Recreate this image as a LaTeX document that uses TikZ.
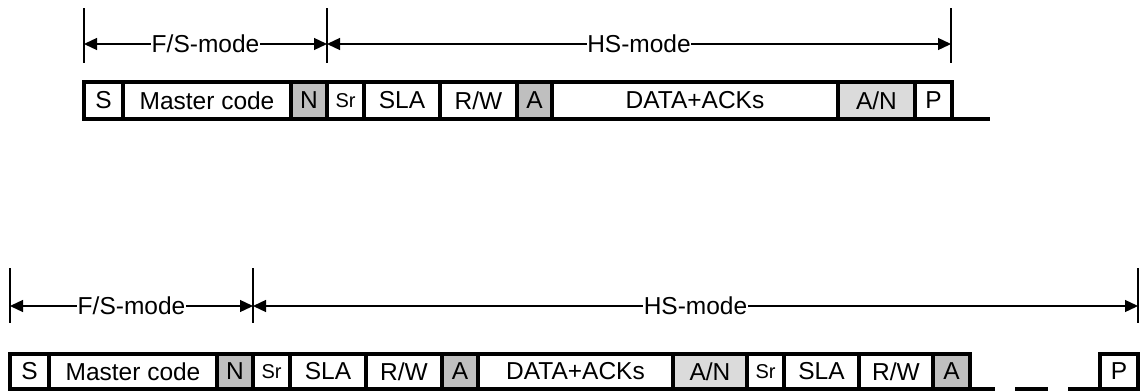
\documentclass[tikz,border=0pt]{standalone}
\usepackage{fontspec}
\setmainfont{Liberation Sans}
\usetikzlibrary{arrows.meta}
\definecolor{ackgray}{gray}{0.75}
\definecolor{dotgray}{gray}{0.86}
\tikzset{
  fieldbox/.style={draw=black, line width=4.5pt, inner sep=0pt, outer sep=0pt,
    font=\fontsize{24.5}{27}\selectfont, anchor=center},
  smallfield/.style={font=\fontsize{20}{23}\selectfont},
  tick/.style={line width=1.4pt},
  dimline/.style={line width=1.3pt, {Triangle[length=13pt,width=12pt]}-{Triangle[length=13pt,width=12pt]}},
  dimlabel/.style={fill=white, inner sep=0.5pt, font=\fontsize{24.5}{27}\selectfont},
  busline/.style={line width=4.5pt},
}
\newcommand\fld[6]{\node[fieldbox,#5,minimum width={(#3-#2)*1pt}] (#1) at ({(#2+#3)/2},#4) {#6};}
\begin{document}
\begin{tikzpicture}[x=1pt,y=-1pt]
\useasboundingbox (0,0) rectangle (1143,391);
% ---------- top diagram ----------
\coordinate (t1a) at (84,8);  \coordinate (t1b) at (84,63);
\coordinate (t2a) at (327,8); \coordinate (t2b) at (327,63);
\coordinate (t3a) at (951,8); \coordinate (t3b) at (951,63);
\draw[tick] (t1a) -- (t1b);
\draw[tick] (t2a) -- (t2b);
\draw[tick] (t3a) -- (t3b);
\coordinate (d1) at (84,44); \coordinate (d2) at (327,44); \coordinate (d3) at (951,44);
\draw[dimline] (d1) -- node[dimlabel] {F/S-mode} (d2);
\draw[dimline] (d2) -- node[dimlabel] {HS-mode} (d3);
\begin{scope}[every node/.append style={minimum height=37pt}]
\fld{aS}{84}{123}{100.5}{}{S}
\fld{aM}{123}{291}{100.5}{}{Master code}
\fld{aN}{291}{327}{100.5}{fill=ackgray}{N}
\fld{aSr}{327}{364}{100.5}{smallfield}{Sr}
\fld{aSLA}{364}{440}{100.5}{}{SLA}
\fld{aRW}{440}{517}{100.5}{}{R/W}
\fld{aA}{517}{552}{100.5}{fill=ackgray}{A}
\fld{aD}{552}{838}{100.5}{}{DATA+ACKs}
\fld{aAN}{838}{915}{100.5}{fill=dotgray}{A/N}
\fld{aP}{915}{952}{100.5}{}{P}
\end{scope}
\coordinate (aend) at (990,119);
\draw[busline] (aP.south east) -- (aend);
% ---------- bottom diagram ----------
\coordinate (u1a) at (10,268);   \coordinate (u1b) at (10,323);
\coordinate (u2a) at (253,268);  \coordinate (u2b) at (253,323);
\coordinate (u3a) at (1138,268); \coordinate (u3b) at (1138,323);
\draw[tick] (u1a) -- (u1b);
\draw[tick] (u2a) -- (u2b);
\draw[tick] (u3a) -- (u3b);
\coordinate (e1) at (10,306); \coordinate (e2) at (253,306); \coordinate (e3) at (1138,306);
\draw[dimline] (e1) -- node[dimlabel] {F/S-mode} (e2);
\draw[dimline] (e2) -- node[dimlabel] {HS-mode} (e3);
\begin{scope}[every node/.append style={minimum height=35pt}]
\fld{bS}{10}{49}{371.5}{}{S}
\fld{bM}{49}{217}{371.5}{}{Master code}
\fld{bN}{217}{253}{371.5}{fill=ackgray}{N}
\fld{bSr}{253}{290}{371.5}{smallfield}{Sr}
\fld{bSLA}{290}{366}{371.5}{}{SLA}
\fld{bRW}{366}{442}{371.5}{}{R/W}
\fld{bA}{442}{478}{371.5}{fill=ackgray}{A}
\fld{bD}{478}{673}{371.5}{}{DATA+ACKs}
\fld{bAN}{673}{747}{371.5}{fill=dotgray}{A/N}
\fld{bSr2}{747}{784}{371.5}{smallfield}{Sr}
\fld{bSLA2}{784}{859}{371.5}{}{SLA}
\fld{bRW2}{859}{933}{371.5}{}{R/W}
\fld{bA2}{933}{970}{371.5}{fill=ackgray}{A}
\fld{bP}{1100}{1138}{371.5}{}{P}
\end{scope}
\coordinate (g1) at (995,389);
\coordinate (g2a) at (1015,389); \coordinate (g2b) at (1048,389);
\coordinate (g3) at (1068,389);
\draw[busline] (bA2.south east) -- (g1);
\draw[busline] (g2a) -- (g2b);
\draw[busline] (g3) -- (bP.south west);
\end{tikzpicture}
\end{document}
